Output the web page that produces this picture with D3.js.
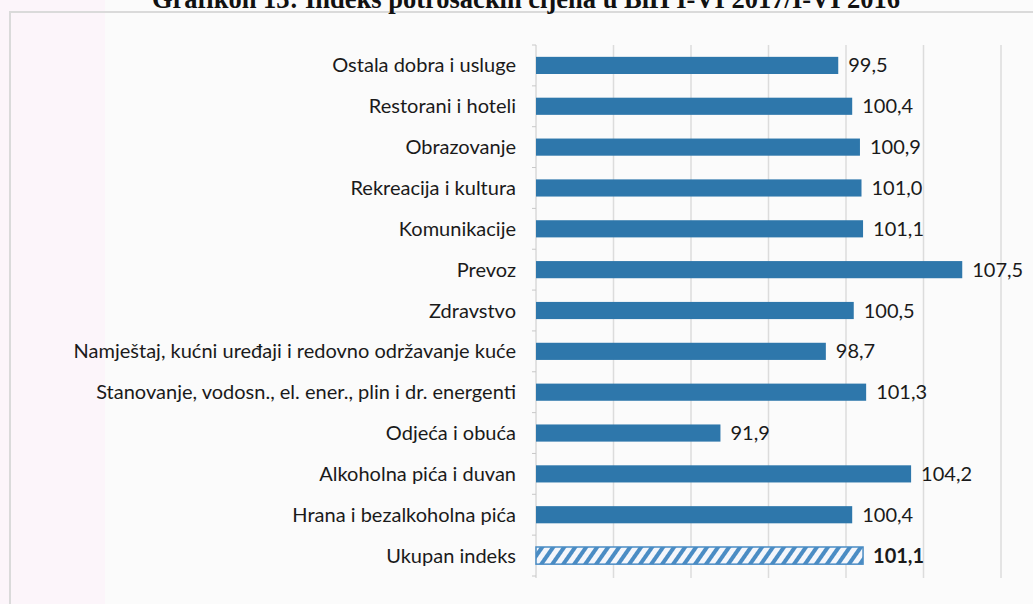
<!DOCTYPE html>
<html>
<head>
<meta charset="utf-8">
<script src="https://cdn.jsdelivr.net/npm/d3@7"></script>
<style>
  body { margin: 0; background: #fbfbfb; }
  svg { display: block; }
</style>
</head>
<body>
<svg id="chart" width="1033" height="604"></svg>
<script>
// categories from top to bottom, as in the chart
var categories = [
  "Ostala dobra i usluge",
  "Restorani i hoteli",
  "Obrazovanje",
  "Rekreacija i kultura",
  "Komunikacije",
  "Prevoz",
  "Zdravstvo",
  "Namještaj, kućni uređaji i redovno održavanje kuće",
  "Stanovanje, vodosn., el. ener., plin i dr. energenti",
  "Odjeća i obuća",
  "Alkoholna pića i duvan",
  "Hrana i bezalkoholna pića",
  "Ukupan indeks"
];
var values = [99.5, 100.4, 100.9, 101.0, 101.1, 107.5, 100.5, 98.7, 101.3, 91.9, 104.2, 100.4, 101.1];
var gridTicks = [80, 85, 90, 95, 100, 105, 110];
var titleText = "Grafikon 13: Indeks potrošačkih cijena u BiH I-VI 2017/I-VI 2016";

var svg = d3.select("#chart");

// scanned page background: faint pink strip on the left
svg.append("rect").attr("x", 0).attr("y", 0).attr("width", 1033).attr("height", 604).attr("fill", "#fbfbfb");
svg.append("rect").attr("x", 0).attr("y", 0).attr("width", 105).attr("height", 604).attr("fill", "#fcf5fa");

// chart frame
svg.append("path")
  .attr("d", "M10,604 L10,12 L1033,12")
  .attr("fill", "none")
  .attr("stroke", "#dadada")
  .attr("stroke-width", 2);

// title, cut off at the top of the scan as in the reference
svg.append("text")
  .attr("x", 526)
  .attr("y", 8)
  .attr("text-anchor", "middle")
  .attr("font-family", "Liberation Serif, serif")
  .attr("font-weight", "bold")
  .attr("font-size", 26.5)
  .attr("fill", "#111")
  .text(titleText);

var x = d3.scaleLinear().domain([80, 110]).range([536, 1001]);
var y = d3.scaleBand().domain(categories).range([45, 576]).paddingInner(0.58).paddingOuter(0.29);

// hatch pattern for the total index
var defs = svg.append("defs");
var pat = defs.append("pattern")
  .attr("id", "hatch")
  .attr("patternUnits", "userSpaceOnUse")
  .attr("width", 9)
  .attr("height", 9)
  .attr("patternTransform", "rotate(35)");
pat.append("rect").attr("width", 9).attr("height", 9).attr("fill", "#f4f6fb");
pat.append("rect").attr("x", 0).attr("width", 4).attr("height", 9).attr("fill", "#4a8cc4");

// vertical gridlines
svg.append("g")
  .selectAll("line")
  .data(gridTicks.slice(1))
  .join("line")
  .attr("x1", d => x(d))
  .attr("x2", d => x(d))
  .attr("y1", 45)
  .attr("y2", 578)
  .attr("stroke", "#dcdcdc")
  .attr("stroke-width", 1.5);

// y axis line with ticks between categories
var axis = svg.append("g");
axis.append("line")
  .attr("x1", x(80)).attr("x2", x(80))
  .attr("y1", 45).attr("y2", 578)
  .attr("stroke", "#c8c8c8");
var step = y.step();
axis.selectAll("line.tk")
  .data(d3.range(categories.length + 1))
  .join("line")
  .attr("class", "tk")
  .attr("x1", x(80) - 4).attr("x2", x(80))
  .attr("y1", i => y(categories[0]) - y.paddingInner() * step / 2 + i * step)
  .attr("y2", i => y(categories[0]) - y.paddingInner() * step / 2 + i * step)
  .attr("stroke", "#c8c8c8");

// bars
svg.append("g")
  .selectAll("rect")
  .data(categories)
  .join("rect")
  .attr("x", x(80))
  .attr("y", d => y(d))
  .attr("width", (d, i) => x(values[i]) - x(80))
  .attr("height", y.bandwidth())
  .attr("fill", (d, i) => i === categories.length - 1 ? "url(#hatch)" : "#2e77ab")
  .attr("stroke", (d, i) => i === categories.length - 1 ? "#4a8cc4" : "none")
  .attr("stroke-width", 1.5);

// category labels
svg.append("g")
  .selectAll("text")
  .data(categories)
  .join("text")
  .attr("x", 516)
  .attr("y", d => y(d) + y.bandwidth() / 2)
  .attr("dy", "0.35em")
  .attr("text-anchor", "end")
  .attr("font-family", "Lato, Open Sans, sans-serif")
  .attr("font-size", 20)
  .attr("fill", "#1a1a1a")
  .text(d => d);

// value labels
var fmt = d3.format(".1f");
svg.append("g")
  .selectAll("text")
  .data(categories)
  .join("text")
  .attr("x", (d, i) => x(values[i]) + 10)
  .attr("y", d => y(d) + y.bandwidth() / 2)
  .attr("dy", "0.35em")
  .attr("font-family", "Lato, Open Sans, sans-serif")
  .attr("font-size", 20)
  .attr("font-weight", (d, i) => i === categories.length - 1 ? "bold" : "normal")
  .attr("fill", "#1a1a1a")
  .text((d, i) => fmt(values[i]).replace(".", ","));
</script>
</body>
</html>
